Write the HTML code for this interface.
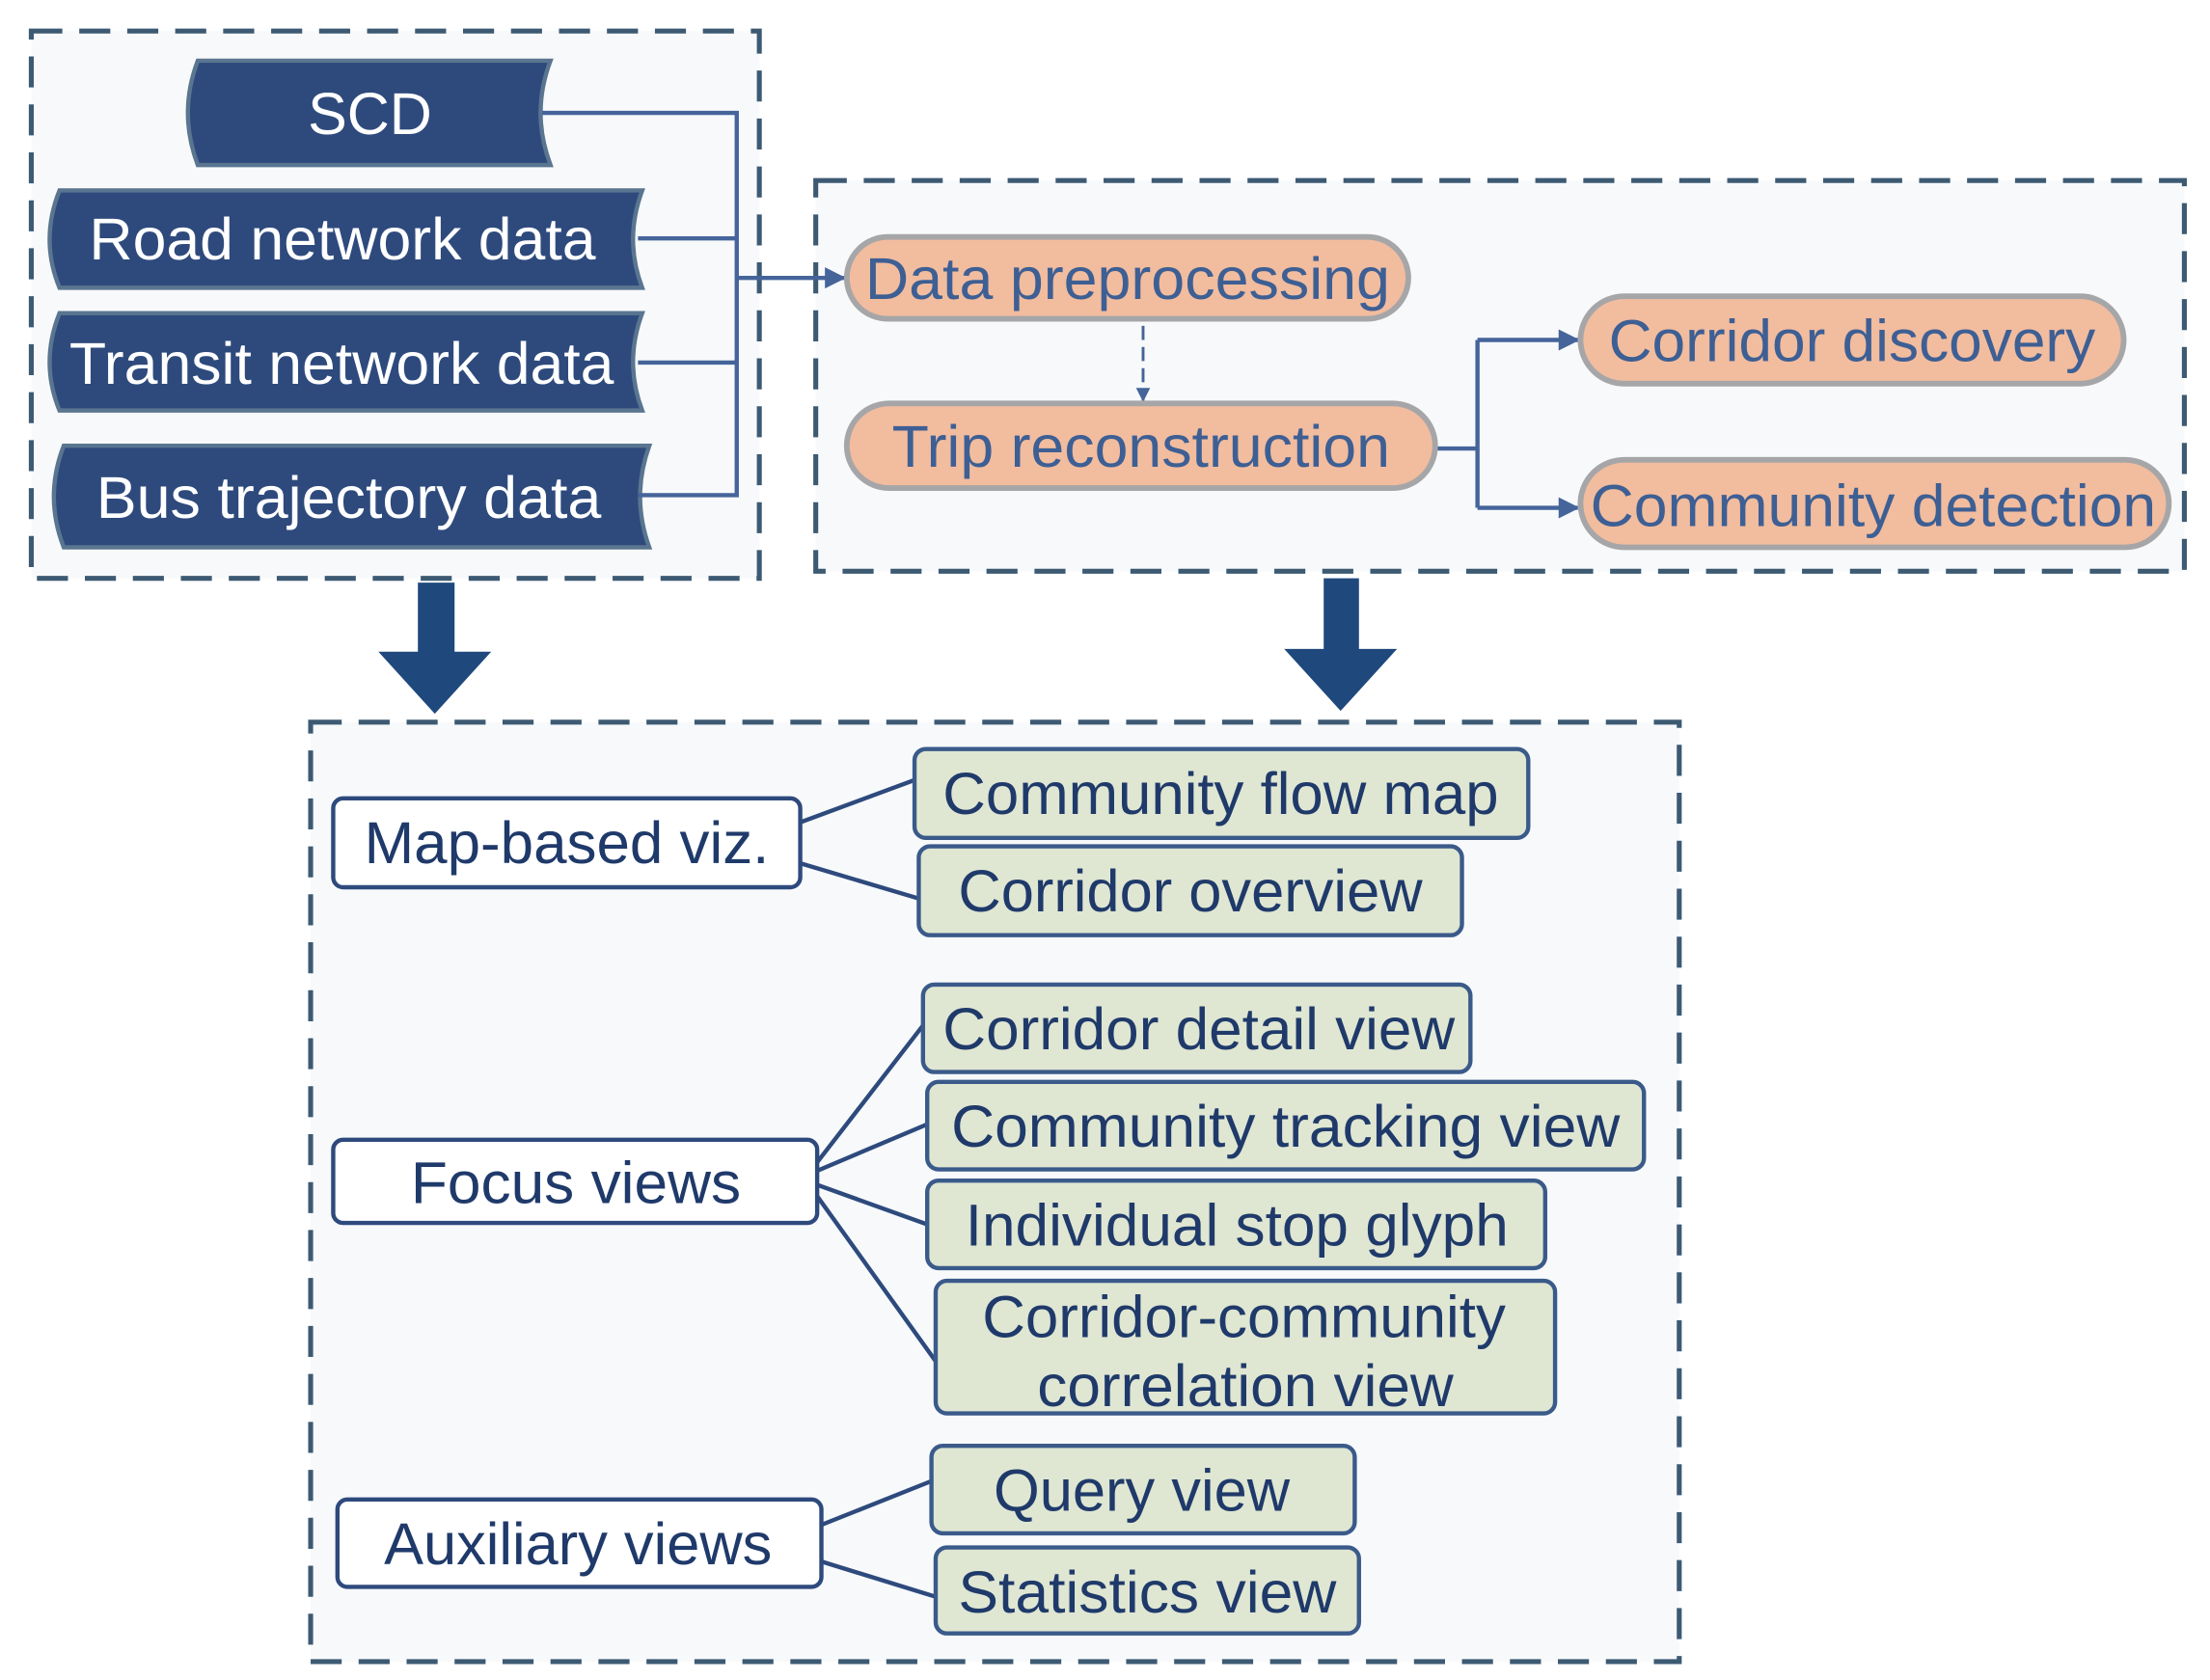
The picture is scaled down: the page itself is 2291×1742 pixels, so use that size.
<!DOCTYPE html>
<html><head><meta charset="utf-8"><style>html,body{margin:0;padding:0;background:#fff}svg{display:block}</style></head>
<body>
<svg width="2291" height="1742" viewBox="0 0 1566 1191" xmlns="http://www.w3.org/2000/svg" font-family="'Liberation Sans', Arial, sans-serif">
<defs>
<marker id="ah" viewBox="0 0 10 10" refX="9" refY="5" markerWidth="5" markerHeight="5" orient="auto"><path d="M0,0 L10,5 L0,10 z" fill="#45649a"/></marker>
</defs>
<g fill="#f7f9fb" stroke="#3d5a73" stroke-width="3.5" stroke-dasharray="22,12">
<rect x="22" y="22" width="516" height="388"/>
<rect x="578" y="128" width="970" height="277"/>
<rect x="220" y="512" width="970" height="666"/>
</g>
<g fill="#1f497d">
<path d="M296,413 H322 V462 H348 L308,506 L268,462 H296 Z"/>
<path d="M938,410 H963 V460 H990 L950,504 L910,460 H938 Z"/>
</g>
<g fill="#2e4a7d" stroke="#5a7590" stroke-width="3">
<path d="M140,43 H390 Q376,80 390,117 H140 Q126,80 140,43 Z"/>
<path d="M42,135 H455 Q442,170 455,204 H42 Q28,170 42,135 Z"/>
<path d="M42,222 H455 Q442,257 455,291 H42 Q28,257 42,222 Z"/>
<path d="M45,316 H460 Q447,352 460,388 H45 Q31,352 45,316 Z"/>
</g>
<g fill="#fff" font-size="42" lengthAdjust="spacingAndGlyphs">
<text x="218" y="95" textLength="88" lengthAdjust="spacingAndGlyphs">SCD</text>
<text x="63" y="184" textLength="359" lengthAdjust="spacingAndGlyphs">Road network data</text>
<text x="49" y="272" textLength="386" lengthAdjust="spacingAndGlyphs">Transit network data</text>
<text x="68" y="367" textLength="358" lengthAdjust="spacingAndGlyphs">Bus trajectory data</text>
</g>
<g stroke="#45649a" stroke-width="3" fill="none">
<path d="M384,80 H522 V351 H452"/>
<path d="M452,169 H522"/>
<path d="M452,257 H522"/>
<path d="M522,197 H598" marker-end="url(#ah)"/>
<path d="M810,231 V284" stroke-dasharray="10,5" marker-end="url(#ah)" stroke-width="2"/>
<path d="M1017,318 H1047"/>
<path d="M1047,241 V360"/>
<path d="M1047,241 H1118" marker-end="url(#ah)"/>
<path d="M1047,360 H1118" marker-end="url(#ah)"/>
</g>
<g fill="#f2bc9e" stroke="#a6a6a8" stroke-width="4">
<rect x="600" y="168" width="398" height="58" rx="29"/>
<rect x="600" y="286" width="417" height="60" rx="30"/>
<rect x="1120" y="210" width="385" height="62" rx="31"/>
<rect x="1120" y="326" width="417" height="62" rx="31"/>
</g>
<g fill="#3d5f94" font-size="42">
<text x="613" y="212" textLength="372" lengthAdjust="spacingAndGlyphs">Data preprocessing</text>
<text x="632" y="331" textLength="353" lengthAdjust="spacingAndGlyphs">Trip reconstruction</text>
<text x="1140" y="256" textLength="345" lengthAdjust="spacingAndGlyphs">Corridor discovery</text>
<text x="1127" y="373" textLength="401" lengthAdjust="spacingAndGlyphs">Community detection</text>
</g>
<g stroke="#2e4a7d" stroke-width="3">
<line x1="567" y1="583" x2="648" y2="553"/>
<line x1="567" y1="612" x2="651" y2="637"/>
<line x1="579" y1="824" x2="654" y2="727"/>
<line x1="579" y1="830" x2="657" y2="797"/>
<line x1="579" y1="840" x2="657" y2="868"/>
<line x1="579" y1="848" x2="663" y2="965"/>
<line x1="582" y1="1081" x2="660" y2="1050"/>
<line x1="582" y1="1107" x2="663" y2="1132"/>
</g>
<g fill="#fff" stroke="#2e4a7d" stroke-width="3">
<rect x="236" y="566" width="331" height="63" rx="7"/>
<rect x="236" y="808" width="343" height="59" rx="7"/>
<rect x="239" y="1063" width="343" height="62" rx="7"/>
</g>
<g fill="#dfe6d2" stroke="#3a5a8a" stroke-width="3">
<rect x="648" y="531" width="435" height="63" rx="8"/>
<rect x="651" y="600" width="385" height="63" rx="8"/>
<rect x="654" y="698" width="388" height="62" rx="8"/>
<rect x="657" y="767" width="508" height="62" rx="8"/>
<rect x="657" y="837" width="438" height="62" rx="8"/>
<rect x="663" y="908" width="439" height="94" rx="8"/>
<rect x="660" y="1025" width="300" height="62" rx="8"/>
<rect x="663" y="1097" width="300" height="61" rx="8"/>
</g>
<g fill="#1f3a6a" font-size="42">
<text x="258" y="612" textLength="287" lengthAdjust="spacingAndGlyphs">Map-based viz.</text>
<text x="291" y="853" textLength="234" lengthAdjust="spacingAndGlyphs">Focus views</text>
<text x="272" y="1109" textLength="275" lengthAdjust="spacingAndGlyphs">Auxiliary views</text>
<text x="668" y="577" textLength="394" lengthAdjust="spacingAndGlyphs">Community flow map</text>
<text x="679" y="646" textLength="329" lengthAdjust="spacingAndGlyphs">Corridor overview</text>
<text x="668" y="744" textLength="363" lengthAdjust="spacingAndGlyphs">Corridor detail view</text>
<text x="674" y="813" textLength="474" lengthAdjust="spacingAndGlyphs">Community tracking view</text>
<text x="684" y="883" textLength="385" lengthAdjust="spacingAndGlyphs">Individual stop glyph</text>
<text x="696" y="948" textLength="371" lengthAdjust="spacingAndGlyphs">Corridor-community</text>
<text x="735" y="997" textLength="295" lengthAdjust="spacingAndGlyphs">correlation view</text>
<text x="704" y="1071" textLength="210" lengthAdjust="spacingAndGlyphs">Query view</text>
<text x="679" y="1143" textLength="268" lengthAdjust="spacingAndGlyphs">Statistics view</text>
</g>
</svg>
</body></html>
